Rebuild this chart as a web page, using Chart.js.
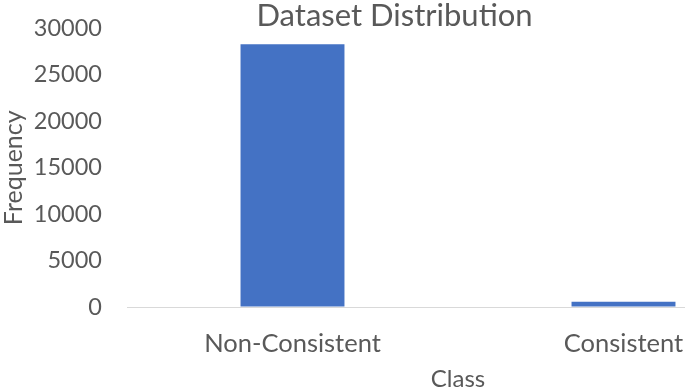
<!DOCTYPE html>
<html><head><meta charset="utf-8">
<script src="https://cdn.jsdelivr.net/npm/chart.js@4"></script>
<style>html,body{margin:0;padding:0;overflow:hidden;background:#fff}#wrap{width:792px;height:391px}</style>
</head><body><div id="wrap"><canvas id="c" width="792" height="391"></canvas></div>
<script>
const categories = ['Non-Consistent', 'Consistent'];
const frequency = [28300, 560];
const yMin = 0, yMax = 30000, yStep = 5000;
const chartTitle = 'Dataset Distribution';
const xTitle = 'Class';
const yTitle = 'Frequency';

const FONT = 'Lato, "Noto Sans", sans-serif';
const TXT = '#595959';

new Chart(document.getElementById('c'), {
  type: 'bar',
  data: {
    labels: categories,
    datasets: [{
      data: frequency,
      backgroundColor: '#4472C4',
      borderWidth: 0,
      categoryPercentage: 1,
      barPercentage: 0.314
    }]
  },
  options: {
    responsive: false,
    animation: false,
    devicePixelRatio: 1,
    layout: { padding: { left: 0, right: 3, top: 0, bottom: 0 } },
    plugins: {
      legend: { display: false },
      tooltip: { enabled: false },
      title: {
        display: true, text: chartTitle, color: TXT,
        font: { family: FONT, size: 31, weight: 'normal', lineHeight: 25.5 / 31 },
        padding: { top: 3, bottom: 0 }
      }
    },
    scales: {
      x: {
        afterFit(s) { s.height = 84; },
        grid: { display: false },
        border: { display: false },
        ticks: { color: TXT, font: { family: FONT, size: 25.5 }, padding: 13 },
        title: { display: true, text: xTitle, color: TXT, font: { family: FONT, size: 24, lineHeight: 1 }, padding: { top: 0, bottom: 0 } }
      },
      y: {
        min: yMin, max: yMax,
        afterFit(s) { s.width = 127; s.paddingTop = 0; s.paddingBottom = 0; },
        grid: {
          drawTicks: false,
          color: (c) => (c.tick && c.tick.value === 0) ? '#d9d9d9' : 'rgba(0,0,0,0)'
        },
        border: { display: false },
        ticks: { stepSize: yStep, color: TXT, font: { family: FONT, size: 23.5 }, padding: 25,
                 callback: (v) => String(v) },
        title: { display: true, text: yTitle, color: TXT, font: { family: FONT, size: 25, lineHeight: 1.1 }, padding: 0 }
      }
    }
  }
});
</script></body></html>
